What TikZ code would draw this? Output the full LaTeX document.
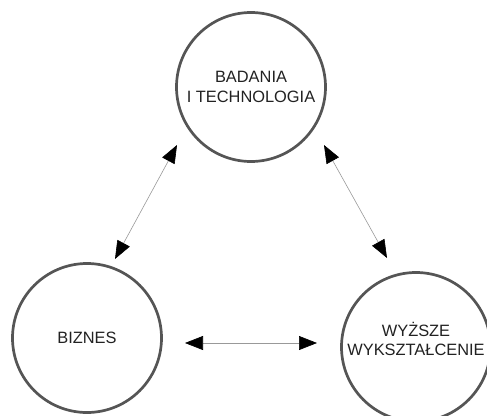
\documentclass[tikz,border=0pt]{standalone}
\usepackage{fontspec}
\setmainfont{Liberation Sans}
\usetikzlibrary{arrows.meta}
\definecolor{ringgray}{HTML}{555555}
\definecolor{linkgray}{HTML}{999999}
\definecolor{inkdark}{HTML}{222222}
\tikzset{
  areatext/.style={align=center, text=inkdark, inner sep=0pt,
    font=\fontsize{16.4}{19.3}\selectfont},
  area/.style={areatext, circle, draw=ringgray, line width=2.7pt, fill=white,
    minimum size=149pt},
  link/.style={draw=linkgray, line width=0.6pt,
    {Triangle[length=18pt,width=14pt,fill=black,color=black]}-{Triangle[length=18pt,width=14pt,fill=black,color=black]}}
}
\begin{document}
\begin{tikzpicture}[x=1pt,y=-1pt]
  \useasboundingbox (0,0) rectangle (487,415);
  \clip (0,0) rectangle (487,415);

  % the three areas
  \node[area] (research) at (251,87) {BADANIA\\I TECHNOLOGIA};
  \node[area] (business) at (87,338) {BIZNES};
  \node[area] (education) at (416,347) {};
  \node[areatext] (educationlabel) at ([yshift=8pt]education.center)
    {WYŻSZE\\WYKSZTAŁCENIE};

  % arrow end points just outside the rings
  \coordinate (rb) at ([shift={(-74,58)}]research.center);
  \coordinate (br) at ([shift={(28,-79)}]business.center);
  \coordinate (re) at ([shift={(73,58)}]research.center);
  \coordinate (er) at ([shift={(-29,-89)}]education.center);
  \coordinate (be) at ([shift={(98,5)}]business.center);
  \coordinate (eb) at ([shift={(-99,-4)}]education.center);

  % two-way links
  \draw[link] (rb) -- (br);
  \draw[link] (re) -- (er);
  \draw[link] (be) -- (eb);
\end{tikzpicture}
\end{document}
